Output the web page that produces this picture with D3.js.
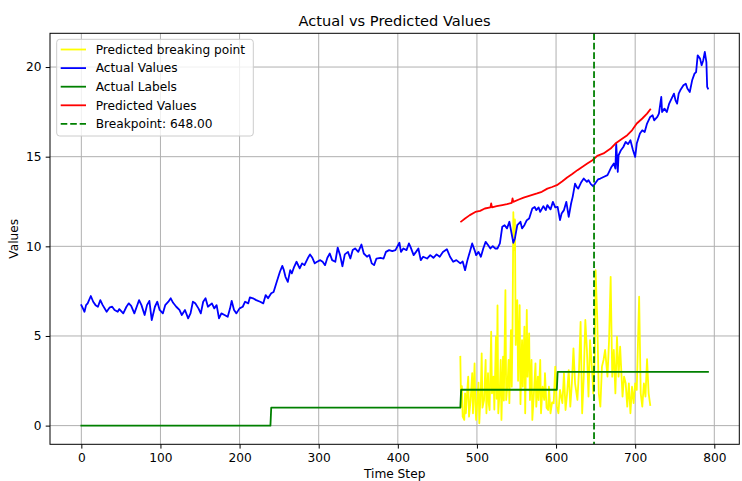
<!DOCTYPE html>
<html>
<head>
<meta charset="utf-8">
<script src="https://cdn.jsdelivr.net/npm/d3@7"></script>
<style>
  html, body { margin: 0; padding: 0; background: #fff; }
  svg { display: block; font-family: "DejaVu Sans", sans-serif; }
</style>
</head>
<body>
<svg id="chart" width="742" height="481"></svg>
<script>
// ---------- data ----------
const actualT = [0,2,4,6,8,12,15,18,21,24,27,32,36,39,42,46,48,53,57,60,63,67,70,73,76,80,83,86,89,93,96,99,103,106,110,113,116,120,124,127,131,135,138,141,144,148,151,154,157,160,165,168,171,174,177,181,185,188,190,193,196,200,204,207,211,213,217,221,226,230,233,236,240,243,247,251,254,256,258,261,264,266,269,272,276,279,282,286,289,292,295,298,302,305,308,311,314,317,321,324,327,330,333,337,340,343,346,350,354,357,361,364,367,370,373,378,382,385,389,393,397,402,404,407,411,414,416,420,423,426,429,432,437,441,445,449,453,457,462,466,470,474,479,482,485,488,491,494,497,499,502,505,508,511,514,517,520,523,526,529,532,535,538,541,543,546,548,551,555,557,560,563,566,570,573,575,578,580,584,587,589,593,596,599,602,605,607,610,613,616,619,621,624,626,628,632,635,639,641,644,647,650,653,656,660,665,667,670,673,675,676,678,679,682,685,688,691,694,697,700,702,706,709,712,715,719,722,724,728,730,733,734,737,740,743,746,749,751,753,755,757,761,764,766,769,772,775,777,779,782,784,786,788,790,791,792];
const actualV = [6.72,6.54,6.35,6.72,6.82,7.23,6.91,6.72,6.63,7.00,6.72,6.35,6.60,6.63,6.45,6.35,6.50,6.26,6.63,6.82,6.68,6.26,6.63,7.00,6.72,6.17,6.72,6.96,5.89,6.63,6.91,6.45,6.26,6.72,6.91,7.10,6.85,6.63,6.45,6.17,6.45,5.98,6.26,6.91,6.82,6.54,6.26,6.91,7.10,6.63,6.82,6.54,6.72,5.98,6.26,6.17,6.07,6.54,6.96,6.45,6.26,6.54,6.63,6.91,6.82,7.15,7.10,7.00,6.91,6.82,7.28,7.10,7.38,7.45,8.02,8.58,8.91,8.67,8.30,8.02,8.67,8.49,8.86,9.14,8.77,9.05,8.95,9.32,9.55,9.36,9.05,9.14,9.23,9.14,8.95,9.36,9.60,9.23,9.14,9.93,9.51,8.89,9.55,9.69,9.32,9.79,9.88,9.69,10.10,9.60,9.42,9.51,9.05,8.95,9.32,9.36,9.32,9.69,9.79,9.73,9.79,10.20,9.69,9.88,9.79,10.16,9.97,9.51,9.69,9.88,9.23,9.42,9.32,9.51,9.36,9.55,9.42,9.69,9.84,9.42,9.14,9.23,9.05,9.15,8.67,9.23,9.69,10.16,9.79,9.51,9.69,9.42,9.88,10.25,10.07,9.88,10.01,9.88,9.88,10.16,11.09,11.18,11.00,11.37,10.90,10.20,10.44,11.18,11.37,11.00,11.18,11.46,11.55,12.11,12.20,12.02,12.17,11.92,12.24,12.02,12.30,12.06,12.48,12.17,12.20,11.46,11.83,12.02,12.48,11.64,12.39,12.76,13.50,13.31,13.22,13.59,13.78,13.60,13.69,13.47,13.35,13.55,13.73,13.78,13.87,13.97,14.15,14.43,14.62,14.34,15.73,14.15,15.08,15.36,15.54,15.82,15.70,15.92,15.40,14.99,15.73,16.29,16.47,16.38,16.85,17.22,17.31,17.03,17.22,17.40,18.33,17.49,17.68,17.49,17.96,18.24,18.52,18.14,17.96,18.52,18.70,18.98,19.07,18.80,18.61,19.26,19.63,19.72,20.65,20.47,20.10,20.37,20.84,20.28,18.89,18.80];

const labelT = [0,239,240,479,480,601,602,792];
const labelV = [0,0,1,1,2,2,3,3];

const predT = [480,485,491,498,504,510,517,518,519,525,532,538,544,545,546,553,559,568,576,582,589,595,601,608,614,620,627,633,639,646,652,660,669,675,684,690,696,702,709,715,719];
const predV = [11.38,11.55,11.74,11.92,11.98,12.11,12.17,12.39,12.17,12.24,12.30,12.35,12.42,12.67,12.48,12.61,12.72,12.84,12.95,13.04,13.22,13.31,13.41,13.63,13.84,14.02,14.25,14.43,14.60,14.80,15.05,15.18,15.45,15.73,16.01,16.20,16.47,16.85,17.13,17.40,17.63];

const breakT = [479,480,481,482,484,485,486,488,489,490,492,494,495,497,498,499,501,502,503,505,506,507,509,511,512,514,515,516,518,519,521,522,524,525,526,527,529,530,531,533,534,536,537,539,540,541,543,544,545,546,547,548,549,551,552,554,555,557,558,560,561,563,564,566,567,569,570,572,574,575,577,578,580,581,583,585,586,588,590,591,593,595,597,599,601,603,605,608,610,612,614,616,618,620,622,624,627,629,631,633,635,637,639,641,643,646,647,649,650,652,654,656,658,660,662,665,667,669,671,673,675,677,679,681,684,686,688,690,692,694,696,698,700,702,705,707,709,711,713,715,717,719];
const breakV = [3.84,1.06,2.20,0.50,0.32,1.80,0.69,2.10,2.73,0.50,1.43,2.92,0.69,3.47,1.20,0.32,1.80,2.40,0.13,2.17,4.03,1.00,1.43,3.66,0.69,2.92,1.20,0.87,5.24,1.80,2.73,0.90,4.96,1.50,6.70,0.69,2.17,3.66,0.32,3.84,1.40,7.56,1.43,2.55,3.66,1.25,5.33,2.17,5.30,11.90,9.80,11.50,4.50,7.00,2.50,6.72,1.20,4.77,2.17,5.52,0.69,6.45,2.73,5.15,1.43,3.66,0.32,1.80,3.47,1.06,2.73,1.43,3.66,0.69,2.17,1.43,2.92,1.00,0.87,2.17,0.69,1.30,1.25,3.29,1.06,0.69,1.99,1.25,2.92,0.87,1.80,3.10,1.06,2.36,4.31,2.36,1.43,3.10,5.79,0.69,2.73,5.89,4.22,1.62,4.77,2.73,1.80,3.84,8.67,6.07,1.80,1.06,3.29,3.66,4.22,2.73,4.77,8.30,2.73,4.22,1.80,4.96,2.73,4.40,1.62,2.73,2.36,1.06,2.36,0.69,2.17,1.25,2.36,1.99,7.19,1.80,1.06,2.36,1.62,3.71,1.80,1.15];

const breakpoint = 648;
const xTicks = [0,100,200,300,400,500,600,700,800];
const yTicks = [0,5,10,15,20];
const titleText = "Actual vs Predicted Values";
const xLabel = "Time Step";
const yLabel = "Values";
const legendLabels = ["Predicted breaking point","Actual Values","Actual Labels","Predicted Values","Breakpoint: 648.00"];

// ---------- layout ----------
const svg = d3.select("#chart");
const L = 50, R = 739.3, T = 33.3, B = 444.3;
const FS = 12.2, LW = 1.8;

// matplotlib-like autoscale with 5% margins
const allX = actualT.concat(labelT, predT, breakT);
const allY = actualV.concat(labelV, predV, breakV);
const [x0, x1] = d3.extent(allX), [y0, y1] = d3.extent(allY);
const xm = (x1 - x0) * 0.05, ym = (y1 - y0) * 0.05;
const x = d3.scaleLinear().domain([x0 - xm, x1 + xm]).range([L, R]);
const y = d3.scaleLinear().domain([y0 - ym, y1 + ym]).range([B, T]);

svg.append("defs").append("clipPath").attr("id", "clip")
  .append("rect").attr("x", L).attr("y", T).attr("width", R - L).attr("height", B - T);

// grid
const grid = svg.append("g");
grid.selectAll(".gx").data(xTicks).join("line")
  .attr("x1", d => x(d)).attr("x2", d => x(d)).attr("y1", T).attr("y2", B)
  .attr("stroke", "#b0b0b0").attr("stroke-width", 1);
grid.selectAll(".gy").data(yTicks).join("line")
  .attr("y1", d => y(d)).attr("y2", d => y(d)).attr("x1", L).attr("x2", R)
  .attr("stroke", "#b0b0b0").attr("stroke-width", 1);

const plot = svg.append("g").attr("clip-path", "url(#clip)");
const mk = (ts, vs) => ts.map((t, i) => [t, vs[i]]);
const line = d3.line().x(d => x(d[0])).y(d => y(d[1]));

function drawLine(data, color, dash) {
  const p = plot.append("path").datum(data).attr("d", line)
    .attr("fill", "none").attr("stroke", color).attr("stroke-width", LW)
    .attr("stroke-linejoin", "round").attr("stroke-linecap", "square");
  if (dash) p.attr("stroke-dasharray", dash).attr("stroke-linecap", "butt");
  return p;
}
drawLine(mk(breakT, breakV), "#ffff00");
drawLine(mk(actualT, actualV), "#0000ff");
drawLine(mk(labelT, labelV), "#008000");
drawLine(mk(predT, predV), "#ff0000");
plot.append("line")
  .attr("x1", x(breakpoint)).attr("x2", x(breakpoint)).attr("y1", T).attr("y2", B)
  .attr("stroke", "#008000").attr("stroke-width", LW).attr("stroke-dasharray", "6.6,2.9");

// axes
const xAxis = svg.append("g").attr("transform", `translate(0,${B})`)
  .call(d3.axisBottom(x).tickValues(xTicks).tickFormat(d3.format("d")).tickSize(4.3).tickPadding(4.3));
const yAxis = svg.append("g").attr("transform", `translate(${L},0)`)
  .call(d3.axisLeft(y).tickValues(yTicks).tickFormat(d3.format("d")).tickSize(4.3).tickPadding(4.3));
[xAxis, yAxis].forEach(a => {
  a.select(".domain").remove();
  a.selectAll(".tick line").attr("stroke", "#000").attr("stroke-width", 1);
  a.selectAll("text").attr("font-family", "DejaVu Sans").attr("font-size", FS).attr("fill", "#000");
});

// frame
svg.append("rect").attr("x", L).attr("y", T).attr("width", R - L).attr("height", B - T)
  .attr("fill", "none").attr("stroke", "#000").attr("stroke-width", 1);

// texts
svg.append("text").attr("x", (L + R) / 2).attr("y", 26).attr("text-anchor", "middle")
  .attr("font-size", 14.6).text(titleText);
svg.append("text").attr("x", (L + R) / 2).attr("y", 477.5).attr("text-anchor", "middle")
  .attr("font-size", FS).text(xLabel);
svg.append("text").attr("transform", `translate(18.3,${(T + B) / 2}) rotate(-90)`)
  .attr("text-anchor", "middle").attr("font-size", FS).text(yLabel);

// legend
const lg = svg.append("g");
lg.append("rect").attr("x", 56.7).attr("y", 39.3).attr("width", 196.6).attr("height", 96.7)
  .attr("rx", 3).attr("fill", "#fff").attr("fill-opacity", 0.8)
  .attr("stroke", "#cccccc").attr("stroke-width", 1);
const legColors = ["#ffff00", "#0000ff", "#008000", "#ff0000", "#008000"];
legendLabels.forEach((lab, i) => {
  const cy = 49.5 + i * 18.6;
  const h = lg.append("line").attr("x1", 60.7).attr("x2", 86).attr("y1", cy).attr("y2", cy)
    .attr("stroke", legColors[i]).attr("stroke-width", LW);
  if (i === 4) h.attr("stroke-dasharray", "6.6,2.9");
  lg.append("text").attr("x", 95.7).attr("y", cy).attr("dy", "0.35em")
    .attr("font-size", FS).text(lab);
});
</script>
</body>
</html>
